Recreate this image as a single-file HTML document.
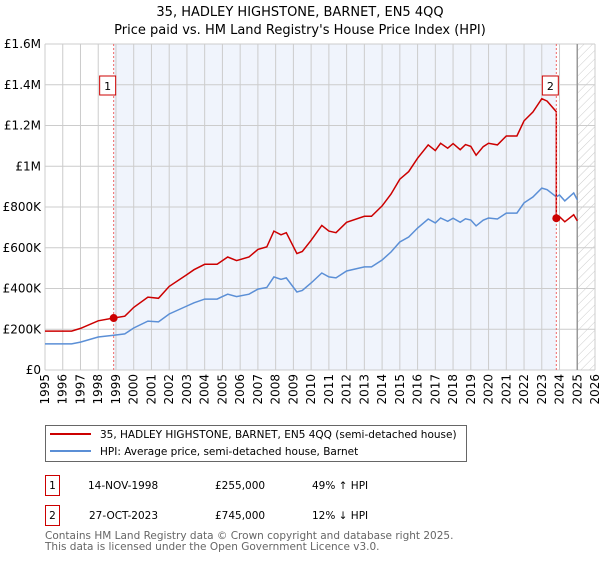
<!DOCTYPE html>
<html><head><meta charset="utf-8"><style>
body{margin:0;background:#fff;font-family:"Liberation Sans","DejaVu Sans",sans-serif;}
text{font-family:"DejaVu Sans","Liberation Sans",sans-serif;}
</style></head><body>
<svg id="chart" width="600" height="560" xmlns="http://www.w3.org/2000/svg">
<defs><pattern id="hatch" width="6" height="6" patternUnits="userSpaceOnUse" patternTransform="rotate(45)"><line x1="0" y1="0" x2="0" y2="6" stroke="#ccc" stroke-width="1"/></pattern></defs>
<text x="300" y="16" text-anchor="middle" font-size="13" fill="#000">35, HADLEY HIGHSTONE, BARNET, EN5 4QQ</text>
<text x="300" y="34" text-anchor="middle" font-size="13" fill="#000">Price paid vs. HM Land Registry's House Price Index (HPI)</text>
<g id="plot"></g>
<g>
<rect x="45.5" y="425.5" width="421" height="36" fill="#fff" stroke="#666" stroke-width="1"/>
<line x1="50" y1="434" x2="91" y2="434" stroke="#cc0000" stroke-width="2"/>
<text x="100" y="438" font-size="10.5">35, HADLEY HIGHSTONE, BARNET, EN5 4QQ (semi-detached house)</text>
<line x1="50" y1="451" x2="91" y2="451" stroke="#5b8fd6" stroke-width="2"/>
<text x="100" y="455" font-size="10.5">HPI: Average price, semi-detached house, Barnet</text>
</g>
<g font-size="10.5">
<rect x="45.5" y="475.5" width="14" height="20" fill="#fff" stroke="#cc0000"/><text x="52.5" y="489" text-anchor="middle">1</text>
<text x="88" y="489">14-NOV-1998</text><text x="215" y="489">£255,000</text><text x="312" y="489">49% ↑ HPI</text>
<rect x="45.5" y="505.5" width="14" height="20" fill="#fff" stroke="#cc0000"/><text x="52.5" y="519" text-anchor="middle">2</text>
<text x="89" y="519">27-OCT-2023</text><text x="215" y="519">£745,000</text><text x="312" y="519">12% ↓ HPI</text>
</g>
<text x="45" y="539" font-size="10.5" fill="#666">Contains HM Land Registry data © Crown copyright and database right 2025.</text>
<text x="45" y="550" font-size="10.5" fill="#666">This data is licensed under the Open Government Licence v3.0.</text>
</svg>
<script>
const hpiYears=[1995,1996.5,1997,1998,1998.87,1999.5,2000,2000.8,2001.4,2002,2003,2003.4,2004,2004.7,2005,2005.3,2005.8,2006.5,2007,2007.5,2007.9,2008.3,2008.6,2009.2,2009.5,2010,2010.6,2011,2011.4,2012,2013,2013.4,2014,2014.5,2015,2015.5,2016,2016.6,2017,2017.3,2017.7,2018,2018.4,2018.7,2019,2019.3,2019.7,2020,2020.5,2021,2021.6,2022,2022.5,2023,2023.3,2023.82,2024,2024.3,2024.8,2025];
const hpiValues=[128000,128000,137000,162000,171000,177000,206000,240000,236000,275000,314000,330000,348000,348000,360000,372000,360000,372000,397000,405000,457000,445000,452000,383000,390000,427000,476000,457000,452000,486000,506000,506000,540000,579000,628000,653000,697000,741000,722000,746000,730000,745000,725000,742000,736000,707000,735000,746000,741000,770000,770000,820000,849000,893000,885000,850000,859000,830000,869000,835000];
const saleDates=[1998.87,2023.82];
const salePrices=[255000,745000];
const saleLabels=["1","2"];
const yTicks=[0,200000,400000,600000,800000,1000000,1200000,1400000,1600000];
const yTickLabels=["£0","£200K","£400K","£600K","£800K","£1M","£1.2M","£1.4M","£1.6M"];
const xTicks=[];for(let y=1995;y<=2026;y++)xTicks.push(y);

const L=45,R=595,T=44,B=370,X0=1995,X1=2026,YMAX=1600000;
const sx=v=>L+(v-X0)/(X1-X0)*(R-L);
const sy=v=>B-v/YMAX*(B-T);
const g=document.getElementById('plot');const NS='http://www.w3.org/2000/svg';
function mk(t,a,p){const e=document.createElementNS(NS,t);for(const k in a)e.setAttribute(k,a[k]);(p||g).appendChild(e);return e;}
function hpiAt(t){for(let i=0;i<hpiYears.length-1;i++){if(t<=hpiYears[i+1]){const f=(t-hpiYears[i])/(hpiYears[i+1]-hpiYears[i]);return hpiValues[i]+f*(hpiValues[i+1]-hpiValues[i]);}}return hpiValues[hpiValues.length-1];}
let e;
e=mk('rect',{x:sx(saleDates[0]),y:T,width:sx(saleDates[1])-sx(saleDates[0]),height:B-T,fill:'#f0f4fc'});

e=mk('rect',{x:sx(2025),y:T,width:R-sx(2025),height:B-T,fill:'url(#hatch)'});

yTicks.forEach((v,i)=>{
 e=mk('line',{x1:L,x2:R,y1:sy(v),y2:sy(v),stroke:'#ccc','stroke-width':1});
 
 e=mk('text',{x:L-4,y:sy(v)+4,'text-anchor':'end','font-size':12});e.textContent=yTickLabels[i];
 
});
xTicks.forEach(v=>{
 e=mk('line',{x1:sx(v),x2:sx(v),y1:T,y2:B,stroke:'#ccc','stroke-width':1});
 
 e=mk('text',{x:0,y:0,'text-anchor':'end','font-size':12,transform:`translate(${sx(v)+4},${B+4}) rotate(-90)`});e.textContent=v;
 
});
e=mk('line',{x1:sx(2025),x2:sx(2025),y1:T,y2:B,stroke:'#999','stroke-width':1.5});

let d=hpiYears.map((t,i)=>(i?'L':'M')+sx(t).toFixed(1)+','+sy(hpiValues[i]).toFixed(1)).join('');
e=mk('path',{d:d,fill:'none',stroke:'#5b8fd6','stroke-width':1.5});

const r1=salePrices[0]/hpiAt(saleDates[0]),r2=salePrices[1]/hpiAt(saleDates[1]);
let pts=[];
hpiYears.forEach((t,i)=>{if(t<saleDates[1])pts.push([t,hpiValues[i]*r1]);});
pts.push([saleDates[1],hpiAt(saleDates[1])*r1]);pts.push([saleDates[1],salePrices[1]]);
hpiYears.forEach((t,i)=>{if(t>saleDates[1])pts.push([t,hpiValues[i]*r2]);});
d=pts.map((p,i)=>(i?'L':'M')+sx(p[0]).toFixed(1)+','+sy(p[1]).toFixed(1)).join('');
e=mk('path',{d:d,fill:'none',stroke:'#cc0000','stroke-width':1.5});

saleDates.forEach((t,i)=>{
 e=mk('line',{x1:sx(t),x2:sx(t),y1:T,y2:B,stroke:'#e66','stroke-width':1,'stroke-dasharray':'2,2'});
 
 e=mk('circle',{cx:sx(t),cy:sy(salePrices[i]),r:4,fill:'#cc0000'});
 
 e=mk('rect',{x:sx(t)-14,y:76,width:16,height:19,fill:'#fff',stroke:'#cc0000','stroke-width':1});
 
 e=mk('text',{x:sx(t)-6,y:90,'text-anchor':'middle','font-size':11});e.textContent=saleLabels[i];
 
});
</script>
</body></html>
